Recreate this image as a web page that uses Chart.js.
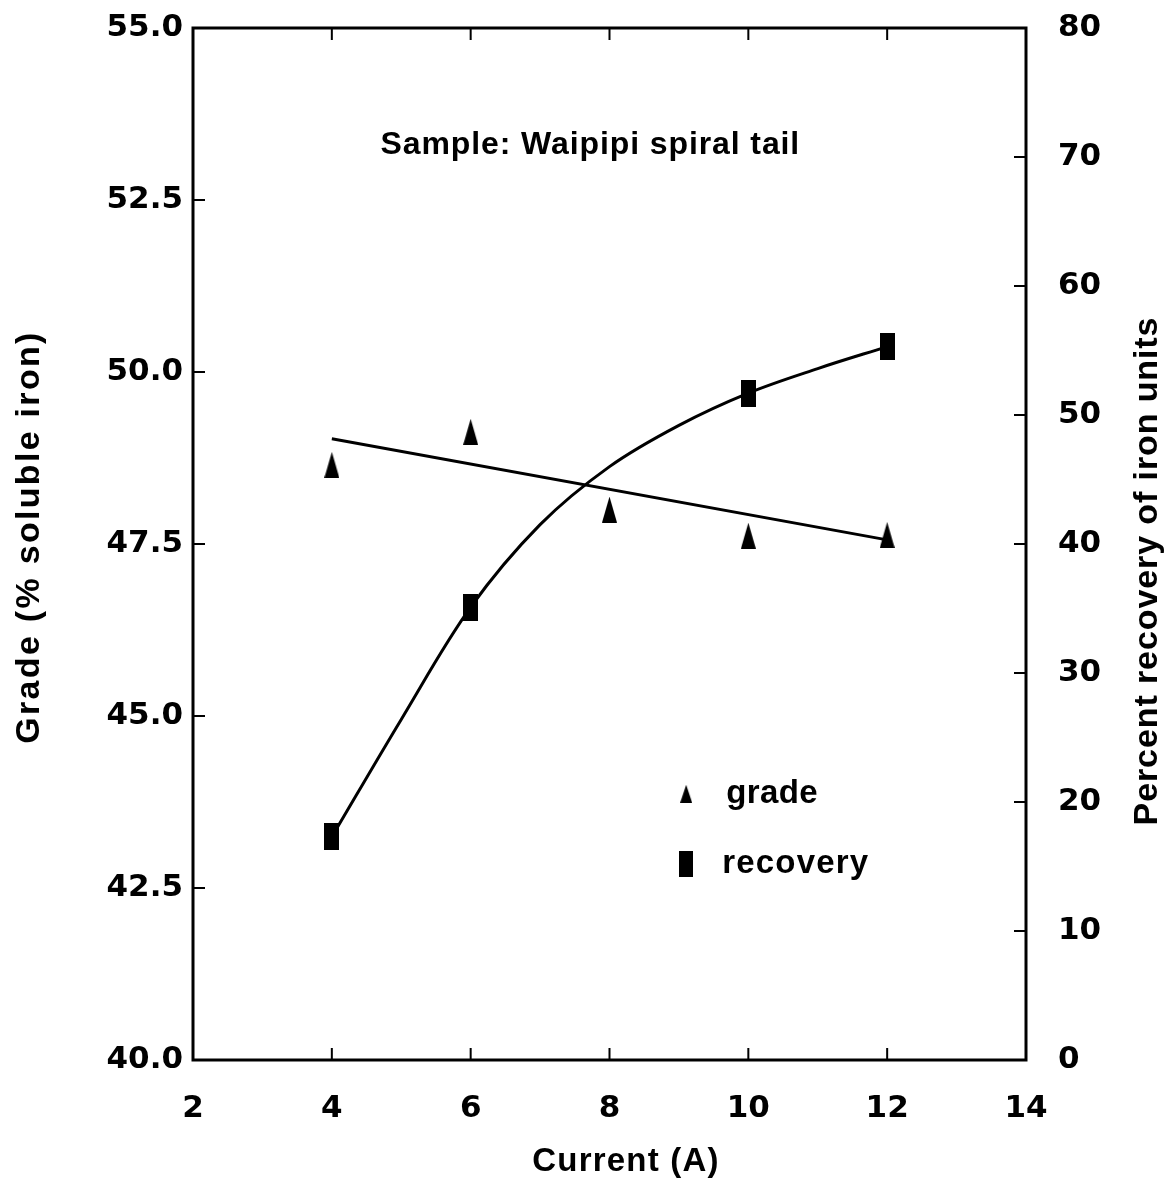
<!DOCTYPE html>
<html>
<head>
<meta charset="utf-8">
<title>Waipipi spiral tail</title>
<script src="https://cdn.jsdelivr.net/npm/chart.js@4/dist/chart.umd.min.js"></script>
<style>
	html, body { margin: 0; padding: 0; background: #ffffff; }
	#chart-box { width: 1166px; height: 1188px; }
</style>
</head>
<body>
<div id="chart-box"><canvas id="grade-chart-canvas"></canvas></div>
<script>
// magnet current (A) for each grade test
var currentValues = [4, 6, 8, 10, 12];
// grade of magnetic product, % soluble iron
var gradeValues = [48.65, 49.13, 48.0, 47.62, 47.63];

// recovery of iron units, % (no recovery figure at 8 A)
var recoveryCurrent = [4, 6, 10, 12];
var recoveryValues = [17.3, 35.1, 51.7, 55.3];

// straight fit through the grade points
var gradeFitCurrent = [4, 12];
var gradeFitValues = [49.03, 47.56];

// hand-drawn smooth curve through the recovery points
var recoveryCurveCurrent = [4, 5, 6, 7, 8, 9, 10, 11, 12];
var recoveryCurveValues = [17.3, 26.4, 35.1, 41.5, 46.0, 49.2, 51.7, 53.6, 55.3];

var plotTitle = "Sample: Waipipi spiral tail";
var legendLabels = ["grade", "recovery"];
var axisTitles = {
	x: "Current (A)",
	y: "Grade (% soluble iron)",
	y1: "Percent recovery of iron units"
};

var tickFont = "'DejaVu Sans', sans-serif";
var textFont = "'Liberation Sans', Arial, sans-serif";

window.onload = function() {
	initPage();
}

function makeMarker(kind, w, h) {
	var c = document.createElement("canvas");
	c.width = w;
	c.height = h;
	var g = c.getContext("2d");
	g.fillStyle = "#000000";
	if(kind === "triangle") {
		g.beginPath();
		g.moveTo(w / 2, 0);
		g.lineTo(w, h);
		g.lineTo(0, h);
		g.closePath();
		g.fill();
	} else {
		g.fillRect(0, 0, w, h);
	}
	return c;
}

function toPoints(xs, ys) {
	var pts = [];
	for(var i = 0; i < xs.length; i++)
		pts.push({x: xs[i], y: ys[i]});
	return pts;
}

function drawText(ctx, text, x, y, size, spacing, angle) {
	ctx.save();
	ctx.translate(x, y);
	if(angle)
		ctx.rotate(angle);
	ctx.font = "bold " + size + "px " + textFont;
	ctx.letterSpacing = spacing + "px";
	ctx.textAlign = "center";
	ctx.textBaseline = "middle";
	ctx.fillText(text, 0, 0);
	ctx.restore();
}

// keep the end labels from pushing the plot area inwards
function fixVerticalScale(width) {
	return function(scale) {
		scale.width = width;
		scale.paddingTop = 0;
		scale.paddingBottom = 0;
	};
}

// frame round the plot and the short inward ticks on all four sides
var frameTicksPlugin = {
	id: "frameTicks",
	afterDraw: function(chart) {
		var ctx = chart.ctx;
		var area = chart.chartArea;
		var tickLen = 12;
		ctx.save();
		ctx.strokeStyle = "#000000";
		ctx.lineWidth = 3;
		ctx.strokeRect(area.left, area.top, area.right - area.left, area.bottom - area.top);
		ctx.lineWidth = 2;
		ctx.beginPath();
		for(var t of chart.scales.x.ticks) {
			var px = chart.scales.x.getPixelForValue(t.value);
			ctx.moveTo(px, area.bottom);
			ctx.lineTo(px, area.bottom - tickLen);
			ctx.moveTo(px, area.top);
			ctx.lineTo(px, area.top + tickLen);
		}
		for(var t of chart.scales.y.ticks) {
			var py = chart.scales.y.getPixelForValue(t.value);
			ctx.moveTo(area.left, py);
			ctx.lineTo(area.left + tickLen, py);
		}
		for(var t of chart.scales.y1.ticks) {
			var py = chart.scales.y1.getPixelForValue(t.value);
			ctx.moveTo(area.right, py);
			ctx.lineTo(area.right - tickLen, py);
		}
		ctx.stroke();
		ctx.restore();
	}
};

// axis titles, sample caption and the marker key
var textPlugin = {
	id: "chartText",
	afterDraw: function(chart) {
		var ctx = chart.ctx;
		var area = chart.chartArea;
		var w = area.right - area.left;
		var h = area.bottom - area.top;
		ctx.fillStyle = "#000000";

		drawText(ctx, axisTitles.x, 626, 1162, 33, 1.2, 0);
		drawText(ctx, axisTitles.y, 30, 537, 34, 2.3, -Math.PI / 2);
		drawText(ctx, axisTitles.y1, 1148, 571, 34, 0.9, -Math.PI / 2);
		drawText(ctx, plotTitle, area.left + w * 0.477, area.top + h * 0.114, 32, 0.9, 0);

		var keyX = area.left + w * 0.592;
		var rowY = [area.top + h * 0.742, area.top + h * 0.81];
		ctx.drawImage(makeMarker("triangle", 12, 18), keyX - 6, rowY[0] - 9);
		ctx.drawImage(makeMarker("square", 14, 26), keyX - 7, rowY[1] - 13);
		ctx.save();
		ctx.font = "bold 33px " + textFont;
		ctx.textAlign = "left";
		ctx.textBaseline = "middle";
		ctx.letterSpacing = "0.4px";
		ctx.fillText(legendLabels[0], keyX + 40, rowY[0]);
		ctx.letterSpacing = "1.2px";
		ctx.fillText(legendLabels[1], keyX + 36, rowY[1]);
		ctx.restore();
	}
};

function initPage() {
	var triangleMarker = makeMarker("triangle", 15, 26);
	var squareMarker = makeMarker("square", 15, 27);

	Chart.defaults.color = "#000000";
	Chart.defaults.font.family = tickFont;

	window.gradeChart = new Chart(document.getElementById("grade-chart-canvas"), {
		type: "scatter",
		data: {
			datasets: [{
				label: "grade fit",
				data: toPoints(gradeFitCurrent, gradeFitValues),
				yAxisID: "y",
				showLine: true,
				borderColor: "#000000",
				borderWidth: 3,
				pointRadius: 0
			}, {
				label: "recovery curve",
				data: toPoints(recoveryCurveCurrent, recoveryCurveValues),
				yAxisID: "y1",
				showLine: true,
				tension: 0.35,
				borderColor: "#000000",
				borderWidth: 3,
				pointRadius: 0
			}, {
				label: legendLabels[0],
				data: toPoints(currentValues, gradeValues),
				yAxisID: "y",
				pointStyle: triangleMarker,
				pointRadius: 13
			}, {
				label: legendLabels[1],
				data: toPoints(recoveryCurrent, recoveryValues),
				yAxisID: "y1",
				pointStyle: squareMarker,
				pointRadius: 13
			}]
		},
		options: {
			responsive: true,
			maintainAspectRatio: false,
			animation: false,
			events: [],
			layout: {
				padding: {top: 28, left: 0, right: 0, bottom: 0}
			},
			plugins: {
				legend: {display: false},
				tooltip: {enabled: false}
			},
			scales: {
				x: {
					type: "linear",
					min: 2,
					max: 14,
					grid: {display: false, drawTicks: false},
					border: {display: false},
					ticks: {
						stepSize: 2,
						padding: 30,
						font: {size: 31, weight: "bold", family: tickFont}
					},
					afterFit: function(scale) { scale.height = 128; }
				},
				y: {
					position: "left",
					min: 40,
					max: 55,
					grid: {display: false, drawTicks: false},
					border: {display: false},
					ticks: {
						stepSize: 2.5,
						padding: 10,
						font: {size: 31, weight: "bold", family: tickFont},
						callback: function(value) { return value.toFixed(1); }
					},
					afterFit: fixVerticalScale(193)
				},
				y1: {
					position: "right",
					min: 0,
					max: 80,
					grid: {display: false, drawTicks: false},
					border: {display: false},
					ticks: {
						stepSize: 10,
						padding: 32,
						font: {size: 31, weight: "bold", family: tickFont}
					},
					afterFit: fixVerticalScale(140)
				}
			}
		},
		plugins: [frameTicksPlugin, textPlugin]
	});
}
</script>
</body>
</html>
